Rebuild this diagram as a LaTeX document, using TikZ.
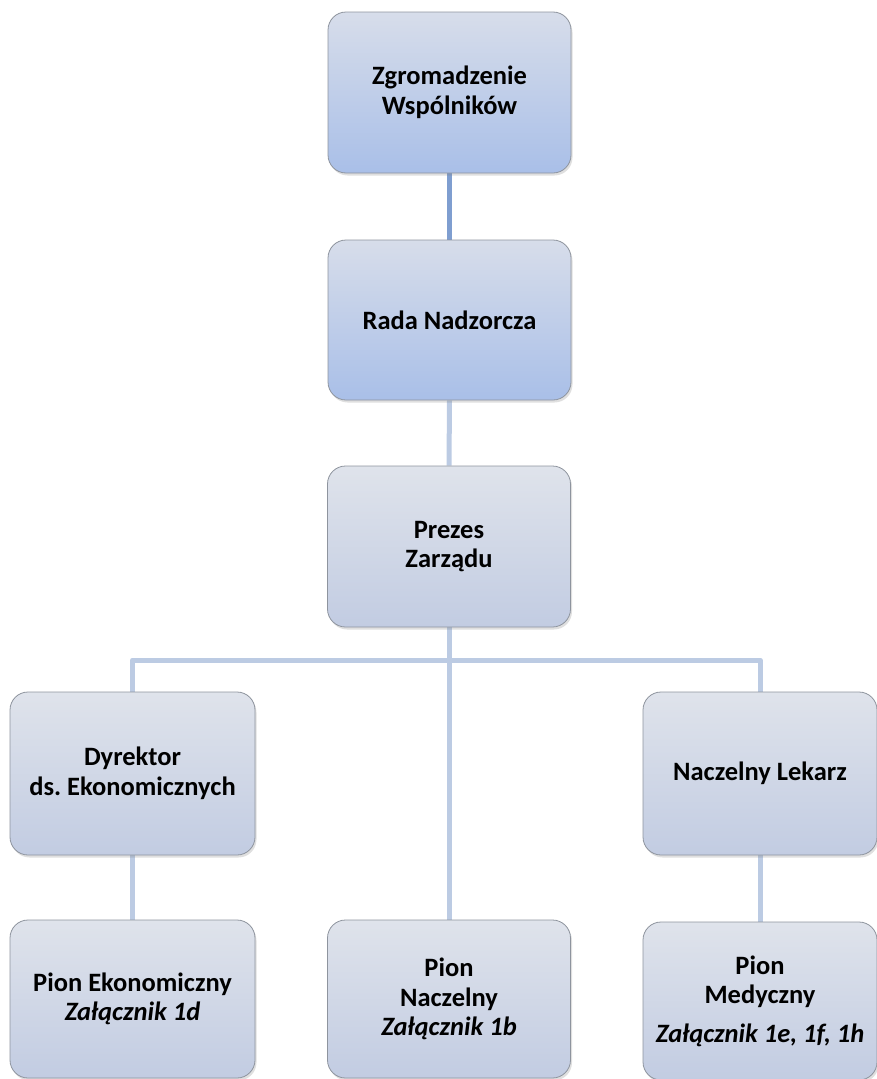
\documentclass[tikz,border=0pt]{standalone}
\usepackage{fontspec}
\setmainfont{Carlito}
\usetikzlibrary{shadows,backgrounds}
\definecolor{bluetop}{HTML}{D7DDEA}
\definecolor{bluebot}{HTML}{A9BFE8}
\definecolor{graytop}{HTML}{DFE3EB}
\definecolor{graybot}{HTML}{C2CCE2}
\definecolor{boxline}{HTML}{8E949E}
\definecolor{darkcon}{HTML}{7F9ED0}
\definecolor{lightcon}{HTML}{BCCBE3}
\tikzset{
  orgbox/.style={draw=boxline, line width=0.8pt, rounded corners=18pt,
    inner sep=0pt, align=center, font=\fontsize{26.5}{29.5}\selectfont\bfseries,
    drop shadow={opacity=0.25, shadow xshift=1.5pt, shadow yshift=-2.5pt}},
  bluebox/.style={orgbox, top color=bluetop, bottom color=bluebot},
  graybox/.style={orgbox, top color=graytop, bottom color=graybot},
  darkconn/.style={draw=darkcon, line width=5pt},
  lightconn/.style={draw=lightcon, line width=5pt}
}
\begin{document}
\begin{tikzpicture}[x=1pt,y=1pt]
\useasboundingbox (0,0) rectangle (877,-1079);
\coordinate (j) at (449,-660);
\node[bluebox, minimum width=243pt, minimum height=161pt] (Z) at (449.5,-92.5) {Zgromadzenie\\Wspólników};
\node[bluebox, minimum width=243pt, minimum height=160pt] (R) at (449.5,-320) {Rada Nadzorcza};
\node[graybox, minimum width=243pt, minimum height=161pt] (P) at (449,-546.5) {Prezes\\Zarządu};
\node[graybox, minimum width=245pt, minimum height=163pt] (D) at (132.5,-773.5) {Dyrektor\\ds.\ Ekonomicznych};
\node[graybox, minimum width=234pt, minimum height=163pt] (N) at (760,-773.5) {Naczelny Lekarz};
\node[graybox, minimum width=245pt, minimum height=158pt] (PE) at (132.5,-999) {Pion Ekonomiczny\\\itshape Załącznik 1d};
\node[graybox, minimum width=243pt, minimum height=158pt] (PN) at (449,-999) {Pion\\Naczelny\\\itshape Załącznik 1b};
\node[graybox, minimum width=234pt, minimum height=158pt] (PM) at (760,-1001) {Pion\\Medyczny\\[9pt]\itshape Załącznik 1e, 1f, 1h};
\begin{pgfonlayer}{background}
\draw[darkconn] (Z.south) -- (R.north);
\draw[lightconn] (R.south) -- (P.north);
\draw[lightconn] (P.south) -- (PN.north);
\draw[lightconn, line join=round] (D.north) |- (j) -| (N.north);
\draw[lightconn] (D.south) -- (PE.north);
\draw[lightconn] (N.south) -- (PM.north);
\end{pgfonlayer}
\end{tikzpicture}
\end{document}
